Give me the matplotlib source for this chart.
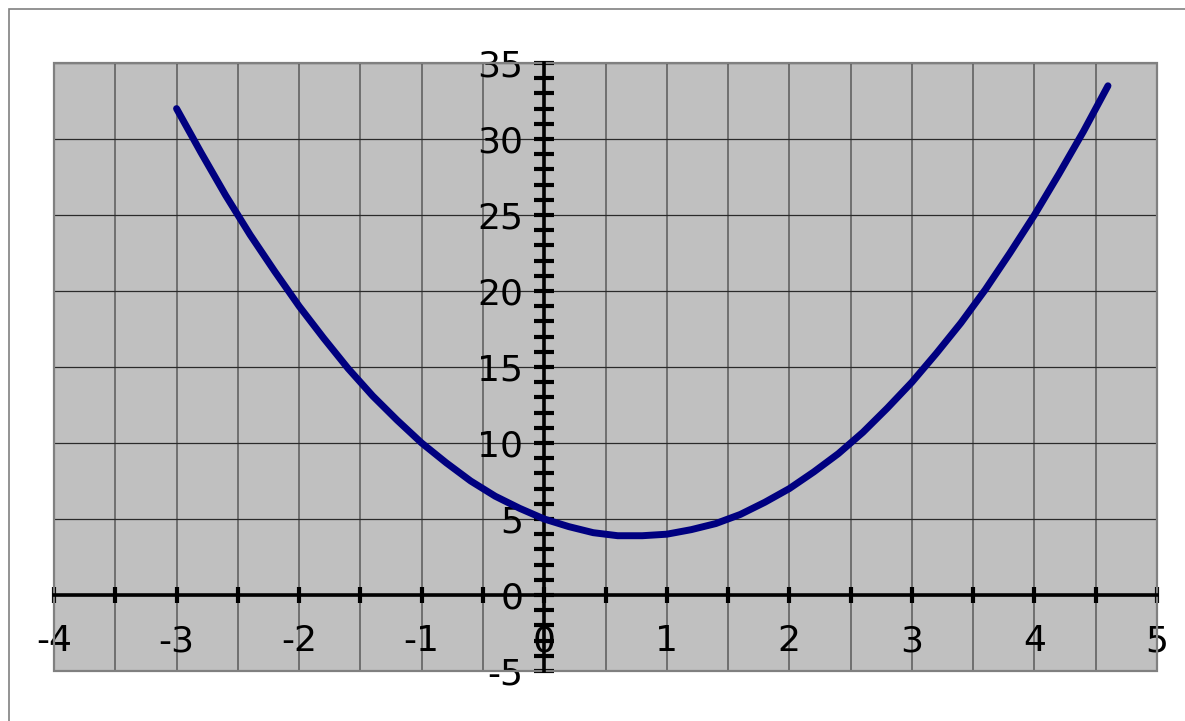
import matplotlib
matplotlib.use("Agg")
from matplotlib import pyplot as plt
from matplotlib.ticker import MultipleLocator
from matplotlib.patches import Rectangle

# curve points
xs = [-3.0, -2.8, -2.6, -2.4, -2.2, -2.0, -1.8, -1.6, -1.4, -1.2, -1.0,
      -0.8, -0.6, -0.4, -0.2, 0.0, 0.2, 0.4, 0.6, 0.8, 1.0, 1.2, 1.4,
      1.6, 1.8, 2.0, 2.2, 2.4, 2.6, 2.8, 3.0, 3.2, 3.4, 3.6, 3.8, 4.0,
      4.2, 4.4, 4.6]
ys = [32.0, 29.1, 26.3, 23.7, 21.3, 19.0, 16.9, 14.9, 13.1, 11.5, 10.0,
      8.7, 7.5, 6.5, 5.7, 5.0, 4.5, 4.1, 3.9, 3.9, 4.0, 4.3, 4.7,
      5.3, 6.1, 7.0, 8.1, 9.3, 10.7, 12.3, 14.0, 15.9, 17.9, 20.1, 22.5, 25.0,
      27.7, 30.5, 33.5]

x_ticks = [-4, -3, -2, -1, 0, 1, 2, 3, 4, 5]
y_ticks = [-5, 0, 5, 10, 15, 20, 25, 30, 35]

fig = plt.figure(figsize=(11.85, 7.21), dpi=100)
W, H = 1185, 721
ax = fig.add_axes([54 / W, (H - 671) / H, (1157 - 54) / W, (671 - 63) / H])
ax.set_facecolor("#c0c0c0")

# outer frame of the chart
fig.patches.append(Rectangle((9 / W, -0.1), 1.2, (H - 9) / H + 0.1,
                             transform=fig.transFigure, fill=False,
                             edgecolor="#808080", linewidth=1.2))

ax.set_xlim(-4, 5)
ax.set_ylim(-5, 35)

# grid
for gx in [i * 0.5 for i in range(-8, 11)]:
    ax.axvline(gx, color="#5a5a5a", lw=1.1, zorder=0.5)
for gy in y_ticks:
    ax.axhline(gy, color="#2a2a2a", lw=0.9, zorder=0.5)

# axes through zero
for s in ["top", "right"]:
    ax.spines[s].set_visible(False)
ax.spines["left"].set_position(("data", 0))
ax.spines["bottom"].set_position(("data", 0))
ax.spines["left"].set_linewidth(2.6)
ax.spines["bottom"].set_linewidth(2.6)
ax.spines["left"].set_zorder(3)
ax.spines["bottom"].set_zorder(3)

ax.set_xticks(x_ticks)
ax.set_xticklabels([str(t) for t in x_ticks])
ax.xaxis.set_minor_locator(MultipleLocator(0.5))
ax.set_yticks(y_ticks)
ax.set_yticklabels([str(t) for t in y_ticks])
ax.yaxis.set_minor_locator(MultipleLocator(1))

ax.tick_params(axis="x", which="both", direction="inout", length=12, width=3,
               pad=15, labelsize=26)
ax.tick_params(axis="y", which="both", direction="inout", length=14, width=3,
               pad=8, labelsize=26)

# plot area border
ax.add_patch(Rectangle((0, 0), 1, 1, transform=ax.transAxes, fill=False,
                       edgecolor="#808080", linewidth=1.6, zorder=2,
                       clip_on=False))

ax.plot(xs, ys, color="#000080", lw=5, solid_capstyle="round",
        solid_joinstyle="round", zorder=5)

plt.savefig("out.png", dpi=100)
